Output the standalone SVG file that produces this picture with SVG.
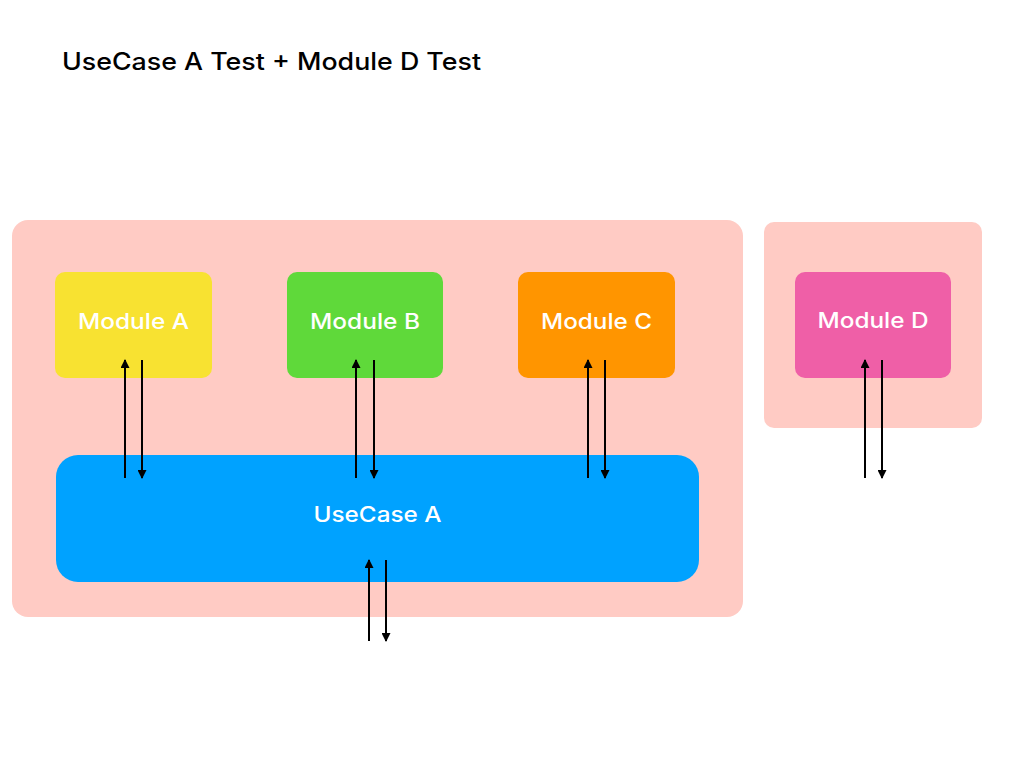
<svg xmlns="http://www.w3.org/2000/svg" width="1024" height="768" viewBox="0 0 1024 768">
<defs>
<marker id="ah" viewBox="0 0 10 10" refX="9" refY="5" markerWidth="5" markerHeight="4.5" orient="auto" markerUnits="strokeWidth">
<path d="M0,0 L10,5 L0,10 z" fill="#000"/>
</marker>
</defs>
<style>
.cont{fill:#FFCBC4;}
.lbl{font-family:Inter,"Open Sans","Liberation Sans",Arial,sans-serif;font-size:21px;font-weight:500;fill:#fff;text-anchor:middle;}
.title{font-family:Inter,"Open Sans","Liberation Sans",Arial,sans-serif;font-size:24px;font-weight:500;fill:#000;}
.conn line{stroke:#000;stroke-width:2;marker-end:url(#ah);}
</style>
<rect width="1024" height="768" fill="#fff"/>
<text class="title" x="62" y="70" textLength="419" lengthAdjust="spacingAndGlyphs">UseCase A Test + Module D Test</text>
<g id="container-main"><rect class="cont" x="12" y="220" width="731" height="397" rx="16"/></g>
<g id="container-d"><rect class="cont" x="764" y="222" width="218" height="206" rx="10"/></g>
<g id="module-a"><rect x="55" y="272" width="157" height="106" rx="10" fill="#F8E231"/><text class="lbl" x="133.5" y="329" textLength="111" lengthAdjust="spacingAndGlyphs">Module A</text></g>
<g id="module-b"><rect x="287" y="272" width="156" height="106" rx="10" fill="#5FD93A"/><text class="lbl" x="365" y="329" textLength="110" lengthAdjust="spacingAndGlyphs">Module B</text></g>
<g id="module-c"><rect x="518" y="272" width="157" height="106" rx="10" fill="#FF9500"/><text class="lbl" x="596.5" y="329" textLength="111" lengthAdjust="spacingAndGlyphs">Module C</text></g>
<g id="module-d"><rect x="795" y="272" width="156" height="106" rx="10" fill="#EF5FA7"/><text class="lbl" x="873" y="328" textLength="111" lengthAdjust="spacingAndGlyphs">Module D</text></g>
<g id="usecase-a"><rect x="56" y="455" width="643" height="127" rx="22" fill="#00A2FF"/><text class="lbl" x="377.5" y="522" textLength="128" lengthAdjust="spacingAndGlyphs">UseCase A</text></g>
<g class="conn" id="connectors">
<line x1="125" y1="478" x2="125" y2="360"/>
<line x1="142" y1="360" x2="142" y2="478"/>
<line x1="356" y1="478" x2="356" y2="360"/>
<line x1="374" y1="360" x2="374" y2="478"/>
<line x1="588" y1="478" x2="588" y2="360"/>
<line x1="605" y1="360" x2="605" y2="478"/>
<line x1="865" y1="478" x2="865" y2="360"/>
<line x1="882" y1="360" x2="882" y2="478"/>
<line x1="369" y1="641" x2="369" y2="560"/>
<line x1="386" y1="560" x2="386" y2="641"/>
</g>
</svg>
